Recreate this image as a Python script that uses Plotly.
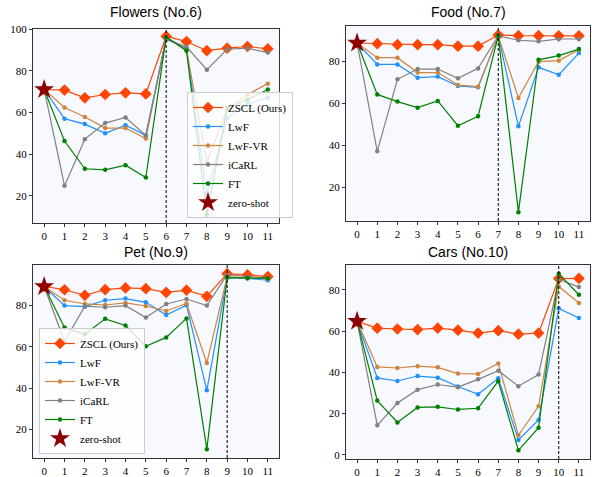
import plotly.graph_objects as go

steps = list(range(12))
tick_labels = [str(s) for s in steps]

methods = ["ZSCL (Ours)", "LwF", "LwF-VR", "iCaRL", "FT"]
colors = {"ZSCL (Ours)": "#FF4500", "LwF": "#1E90FF", "LwF-VR": "#CD853F",
          "iCaRL": "#808080", "FT": "#008000"}

# ---- Flowers (No.6) ----
flowers_title = "Flowers (No.6)"
flowers_task = 6
flowers_zero_shot = 71.0
flowers_zscl = [71.0, 70.7, 67.0, 68.6, 69.4, 68.9, 96.5, 94.0, 89.6, 90.8, 91.6, 90.5]
flowers_lwf = [71.0, 57.0, 54.4, 50.0, 53.9, 49.0, 95.8, 90.5, 21.0, 57.3, 64.0, 67.0]
flowers_lwfvr = [71.0, 62.4, 57.8, 52.5, 52.5, 47.5, 96.0, 90.0, 36.5, 61.3, 68.6, 73.8]
flowers_icarl = [71.0, 24.8, 47.2, 54.9, 57.6, 49.0, 94.9, 91.5, 80.5, 90.3, 90.8, 88.7]
flowers_ft = [71.0, 46.3, 33.0, 32.5, 34.7, 28.8, 96.1, 89.6, 11.0, 62.1, 66.1, 71.0]

# ---- Food (No.7) ----
food_title = "Food (No.7)"
food_task = 7
food_zero_shot = 88.6
food_zscl = [88.6, 88.3, 87.8, 87.8, 87.8, 87.1, 87.1, 92.4, 92.1, 92.1, 92.0, 92.0]
food_lwf = [88.6, 78.4, 78.4, 72.1, 72.6, 68.1, 67.5, 92.0, 48.9, 77.0, 73.5, 83.8]
food_lwfvr = [88.6, 81.6, 81.6, 74.5, 74.5, 68.6, 67.8, 92.0, 62.4, 79.7, 80.2, 85.4]
food_icarl = [88.6, 37.0, 71.3, 76.2, 76.2, 71.8, 76.5, 92.0, 89.9, 89.4, 90.5, 90.5]
food_ft = [88.6, 64.1, 60.7, 57.8, 61.0, 49.2, 53.7, 92.0, 8.0, 80.6, 82.6, 85.7]

# ---- Pet (No.9) ----
pet_title = "Pet (No.9)"
pet_task = 9
pet_zero_shot = 89.3
pet_zscl = [89.3, 87.7, 85.0, 87.8, 88.6, 88.2, 86.4, 87.5, 84.5, 95.5, 94.9, 94.1]
pet_lwf = [89.3, 80.0, 79.5, 82.6, 83.4, 81.6, 75.4, 80.2, 38.9, 93.6, 93.2, 92.3]
pet_lwfvr = [89.3, 82.6, 80.8, 80.3, 81.3, 79.8, 77.4, 81.0, 52.2, 94.0, 93.5, 93.0]
pet_icarl = [89.3, 62.6, 79.7, 79.2, 80.0, 74.2, 80.8, 83.2, 80.0, 95.0, 94.0, 93.5]
pet_ft = [89.3, 69.4, 66.1, 73.6, 70.4, 60.3, 64.6, 73.8, 10.4, 93.6, 93.4, 93.3]

# ---- Cars (No.10) ----
cars_title = "Cars (No.10)"
cars_task = 10
cars_zero_shot = 64.7
cars_zscl = [64.7, 61.4, 61.0, 60.7, 61.4, 60.4, 59.0, 60.2, 58.5, 59.0, 85.4, 85.5]
cars_lwf = [64.7, 37.3, 35.8, 38.2, 37.4, 33.1, 29.4, 37.1, 7.2, 16.9, 71.0, 66.3]
cars_lwfvr = [64.7, 42.6, 42.1, 43.0, 42.4, 39.4, 39.2, 44.3, 9.5, 23.5, 81.6, 73.6]
cars_icarl = [64.7, 14.3, 25.1, 31.6, 34.1, 32.8, 36.6, 40.8, 33.3, 38.9, 85.1, 81.3]
cars_ft = [64.7, 26.3, 15.7, 23.0, 23.3, 22.0, 22.6, 35.7, 2.2, 13.2, 87.7, 77.6]

panels = [
    (flowers_title, flowers_task, flowers_zero_shot,
     [flowers_zscl, flowers_lwf, flowers_lwfvr, flowers_icarl, flowers_ft], "legend"),
    (food_title, food_task, food_zero_shot,
     [food_zscl, food_lwf, food_lwfvr, food_icarl, food_ft], None),
    (pet_title, pet_task, pet_zero_shot,
     [pet_zscl, pet_lwf, pet_lwfvr, pet_icarl, pet_ft], "legend2"),
    (cars_title, cars_task, cars_zero_shot,
     [cars_zscl, cars_lwf, cars_lwfvr, cars_icarl, cars_ft], None),
]

W, H = 592, 477
# pixel boxes (left, right, top, bottom)
boxes = [(33, 279, 29, 223), (346, 590, 26, 221), (33, 279, 265, 458), (346, 590, 265, 459)]
yranges = [[7, 100], [3.8, 96.7], [6.1, 99.7], [-2.0, 92.0]]
title_y = [12, 12, 252, 252]

fig = go.Figure()
tick_font = dict(family="Liberation Serif", size=11, color="black")

for i, (title, task, zs, series, leg) in enumerate(panels):
    xa = "x" if i == 0 else f"x{i+1}"
    ya = "y" if i == 0 else f"y{i+1}"
    for name, vals in zip(methods, series):
        is_z = name.startswith("ZSCL")
        fig.add_trace(go.Scatter(
            x=steps, y=vals, mode="lines+markers", name=name,
            line=dict(color=colors[name], width=1.2),
            marker=dict(symbol="diamond" if is_z else "circle",
                        size=9 if is_z else 4.5, color=colors[name]),
            xaxis=xa, yaxis=ya, showlegend=leg is not None,
            legend=leg if leg else "legend"))
    fig.add_trace(go.Scatter(
        x=[steps[0]], y=[zs], mode="markers", name="zero-shot",
        marker=dict(symbol="star", size=15, color="#8B0000"),
        xaxis=xa, yaxis=ya, showlegend=leg is not None,
        legend=leg if leg else "legend"))

    l, r, t, b = boxes[i]
    axis_common = dict(showline=True, linecolor="#333333", linewidth=1.2, mirror=True,
                       ticks="outside", ticklen=3, tickcolor="#333333", tickwidth=1,
                       showgrid=False, zeroline=False, tickfont=tick_font,
                       automargin=False)
    fig.layout[("xaxis" if i == 0 else f"xaxis{i+1}")] = dict(
        domain=[l / W, r / W], anchor=ya, range=[-0.55, 11.55],
        tickvals=steps, ticktext=tick_labels, **axis_common)
    fig.layout[("yaxis" if i == 0 else f"yaxis{i+1}")] = dict(
        domain=[1 - b / H, 1 - t / H], anchor=xa, range=yranges[i],
        tickvals=[0, 20, 40, 60, 80, 100], **axis_common)
    fig.add_shape(type="line", xref=xa, yref=f"{ya} domain", x0=task, x1=task, y0=0, y1=1,
                  line=dict(color="black", width=1, dash="3px,2px"))
    fig.add_annotation(text=title, xref="paper", yref="paper", x=(l + r) / 2 / W,
                       y=1 - title_y[i] / H, showarrow=False, xanchor="center",
                       yanchor="middle",
                       font=dict(family="Liberation Sans", size=14, color="black"))

legend_style = dict(bgcolor="rgba(255,255,255,0.8)", bordercolor="#cccccc", borderwidth=1,
                    font=dict(family="Liberation Serif", size=11, color="black"),
                    xanchor="left", yanchor="bottom", tracegroupgap=0, itemwidth=30)

fig.update_layout(
    width=W, height=H, margin=dict(l=0, r=0, t=0, b=0, autoexpand=False),
    paper_bgcolor="white", plot_bgcolor="#F8F8FF",
    legend=dict(x=187 / W, y=1 - 218 / H, **legend_style),
    legend2=dict(x=39 / W, y=1 - 454 / H, **legend_style),
)

fig.write_html("out.html", config={"displayModeBar": False},
               post_script="document.body.style.margin='0px';document.body.style.overflow='hidden';")
